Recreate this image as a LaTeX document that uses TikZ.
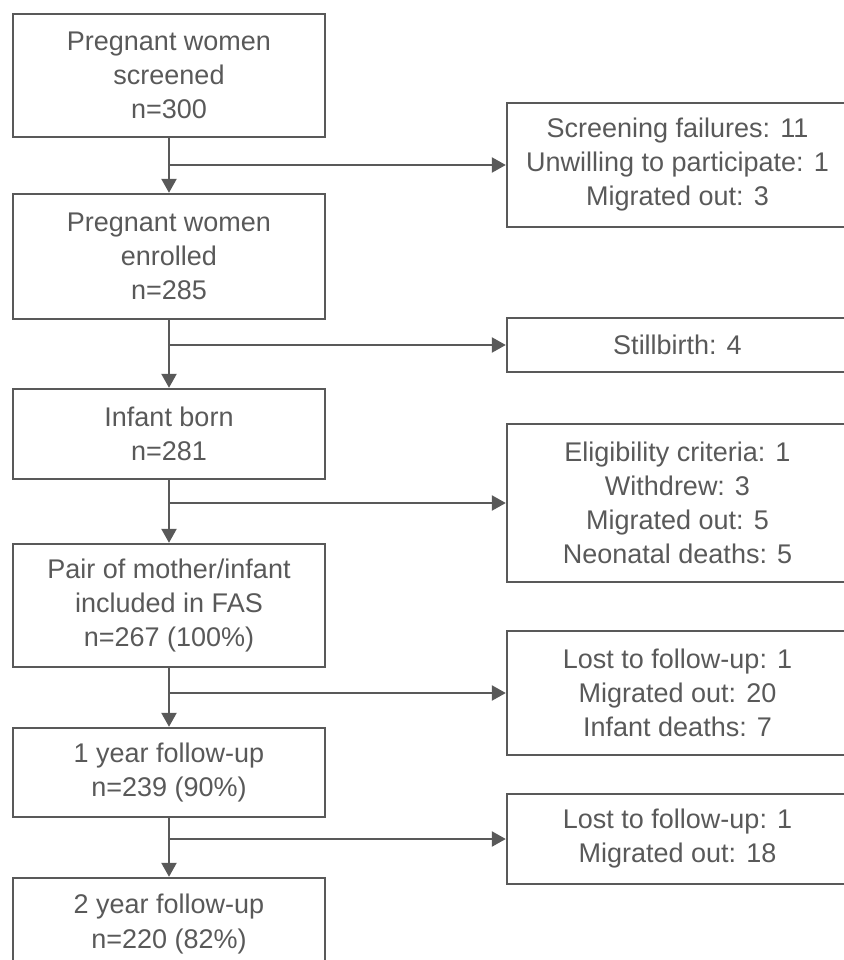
\documentclass[tikz,border=0pt]{standalone}
\usepackage{fontspec}
\setmainfont{Liberation Sans}
\usetikzlibrary{arrows.meta}
\definecolor{flowgray}{HTML}{595959}
\tikzset{>={Triangle[length=14pt,width=15pt]}}
\tikzset{
  stage/.style={draw=flowgray,line width=2.4pt,text=flowgray,align=center,
    minimum width=312pt,font=\fontsize{27}{34}\selectfont},
  drop/.style={stage,minimum width=341pt},
  flow/.style={->,draw=flowgray,line width=2.4pt}
}

\begin{document}
\begin{tikzpicture}[x=1pt,y=-1pt]
  \useasboundingbox (0,0) rectangle (843,960);
  % main stages
  \node[stage,minimum height=123pt] (screened) at (169,75.5) {Pregnant women\\screened\\n=300};
  \node[stage,minimum height=125pt] (enrolled) at (169,256.5) {Pregnant women\\enrolled\\n=285};
  \node[stage,minimum height=90pt]  (born)     at (169,434) {Infant born\\n=281};
  \node[stage,minimum height=123pt] (fas)      at (169,605.5) {Pair of mother/infant\\included in FAS\\n=267 (100\%)};
  \node[stage,minimum height=89pt]  (year1)    at (169,772.5) {1 year follow-up\\n=239 (90\%)};
  \node[stage,minimum height=92pt]  (year2)    at (169,924) {2 year follow-up\\n=220 (82\%)};
  % exclusions
  \node[drop,minimum height=124pt] (excl1) at (677.5,165) {Screening failures: 11\\Unwilling to participate: 1\\Migrated out: 3};
  \node[drop,minimum height=54pt]  (excl2) at (677.5,345) {Stillbirth: 4};
  \node[drop,minimum height=158pt] (excl3) at (677.5,503) {Eligibility criteria: 1\\Withdrew: 3\\Migrated out: 5\\Neonatal deaths: 5};
  \node[drop,minimum height=124pt] (excl4) at (677.5,693) {Lost to follow-up: 1\\Migrated out: 20\\Infant deaths: 7};
  \node[drop,minimum height=90pt]  (excl5) at (677.5,839) {Lost to follow-up: 1\\Migrated out: 18};
  % arrows down
  \draw[flow] (screened) -- (enrolled);
  \draw[flow] (enrolled) -- (born);
  \draw[flow] (born) -- (fas);
  \draw[flow] (fas) -- (year1);
  \draw[flow] (year1) -- (year2);
  % arrows right
  \draw[flow] (screened.south |- excl1.west) -- (excl1.west);
  \draw[flow] (enrolled.south |- excl2.west) -- (excl2.west);
  \draw[flow] (born.south |- excl3.west) -- (excl3.west);
  \draw[flow] (fas.south |- excl4.west) -- (excl4.west);
  \draw[flow] (year1.south |- excl5.west) -- (excl5.west);
\end{tikzpicture}
\end{document}
